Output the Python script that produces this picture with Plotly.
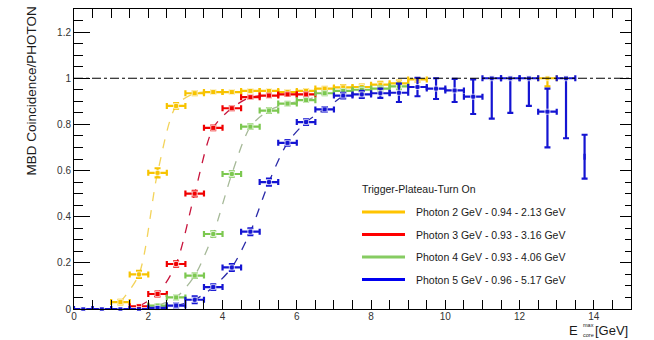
import plotly.graph_objects as go

# ---- efficiency data (bin centres, 0.5 GeV bins) ----
half_bin = 0.25

x_2gev = [1.25, 1.75, 2.25, 2.75, 3.25, 3.75, 4.25, 4.75, 5.25, 5.75, 6.25, 6.75,
          7.25, 7.75, 8.25, 8.75, 9.25, 12.75]
y_2gev = [0.03, 0.15, 0.59, 0.88, 0.935, 0.94, 0.94, 0.945, 0.945, 0.94, 0.945, 0.955,
          0.96, 0.962, 0.972, 0.978, 0.995, 1.0]
eu_2gev = [0.01, 0.015, 0.02, 0.012, 0.008, 0.006, 0.006, 0.006, 0.006, 0.007, 0.008, 0.008,
           0.01, 0.01, 0.012, 0.012, 0.005, 0.0]
ed_2gev = [0.01, 0.015, 0.02, 0.012, 0.008, 0.006, 0.006, 0.006, 0.006, 0.007, 0.008, 0.008,
           0.01, 0.01, 0.012, 0.012, 0.01, 0.035]

x_3gev = [1.75, 2.25, 2.75, 3.25, 3.75, 4.25, 4.75, 5.25, 5.75, 6.25]
y_3gev = [0.012, 0.065, 0.195, 0.50, 0.785, 0.87, 0.918, 0.925, 0.93, 0.93]
eu_3gev = [0.005, 0.01, 0.012, 0.012, 0.01, 0.008, 0.007, 0.007, 0.007, 0.008]
ed_3gev = eu_3gev

x_4gev = [2.25, 2.75, 3.25, 3.75, 4.25, 4.75, 5.25, 5.75, 6.25, 6.75, 7.25, 7.75, 8.25, 8.75]
y_4gev = [0.015, 0.05, 0.145, 0.325, 0.585, 0.79, 0.86, 0.89, 0.905, 0.935, 0.945, 0.95,
          0.955, 0.965]
eu_4gev = [0.005, 0.008, 0.01, 0.012, 0.012, 0.01, 0.01, 0.008, 0.008, 0.008, 0.008, 0.01,
           0.01, 0.012]
ed_4gev = eu_4gev

x_5gev = [0.25, 0.75, 1.25, 1.75, 2.25, 2.75, 3.25, 3.75, 4.25, 4.75, 5.25, 5.75, 6.25, 6.75,
          7.25, 7.75, 8.25, 8.75, 9.25, 9.75, 10.25, 10.75, 11.25, 11.75, 12.25, 12.75,
          13.25, 13.75]
y_5gev = [0.0, 0.0, 0.0, 0.0, 0.005, 0.015, 0.04, 0.095, 0.18, 0.335, 0.55, 0.72, 0.81, 0.865,
          0.925, 0.93, 0.935, 0.937, 0.962, 0.955, 0.947, 0.92, 1.0, 1.0, 1.0, 0.855,
          1.0, 0.66]
eu_5gev = [0.0, 0.0, 0.0, 0.0, 0.004, 0.008, 0.015, 0.012, 0.015, 0.015, 0.015, 0.012, 0.012,
           0.01, 0.012, 0.015, 0.02, 0.04, 0.04, 0.045, 0.05, 0.075, 0.0, 0.0, 0.0, 0.10,
           0.0, 0.095]
ed_5gev = [0.0, 0.0, 0.0, 0.0, 0.004, 0.008, 0.015, 0.012, 0.015, 0.015, 0.015, 0.012, 0.012,
           0.01, 0.012, 0.015, 0.02, 0.04, 0.04, 0.045, 0.05, 0.075, 0.175, 0.15, 0.12, 0.155,
           0.26, 0.095]
# last 5 GeV bin is shown as a bare vertical error bar
xerr_5gev = [half_bin] * (len(x_5gev) - 1) + [0.0]

legend_title = "Trigger-Plateau-Turn On"
legend_labels = [
    "Photon 2 GeV - 0.94 - 2.13 GeV",
    "Photon 3 GeV - 0.93 - 3.16 GeV",
    "Photon 4 GeV - 0.93 - 4.06 GeV",
    "Photon 5 GeV - 0.96 - 5.17 GeV",
]

# index range (start, stop) of the points used for each dashed turn-on curve
turn_on_ranges = [(0, 6), (0, 8), (0, 10), (4, 15)]

x_ticks = [0, 2, 4, 6, 8, 10, 12, 14]

# ---- styling ----
point_colors = ["#F7C300", "#F00000", "#7CC850", "#1414D2"]
curve_colors = ["#F3D35A", "#C8143C", "#A6B998", "#2A2AA8"]
legend_colors = ["#FFC400", "#FF0000", "#86CC62", "#0000F0"]
FONT = "Liberation Sans, Arial, Helvetica, sans-serif"
TEXT = "#1a1a1a"

W, H = 654, 340
ML, MR, MT, MB = 74, 23, 9, 31
PW, PH = W - ML - MR, H - MT - MB


def px_x(p):
    return (p - ML) / PW


def px_y(p):
    return (H - MB - p) / PH


series = [
    (x_2gev, y_2gev, eu_2gev, ed_2gev, [half_bin] * len(x_2gev)),
    (x_3gev, y_3gev, eu_3gev, ed_3gev, [half_bin] * len(x_3gev)),
    (x_4gev, y_4gev, eu_4gev, ed_4gev, [half_bin] * len(x_4gev)),
    (x_5gev, y_5gev, eu_5gev, ed_5gev, xerr_5gev),
]

fig = go.Figure()

# dashed turn-on curves
for (xs, ys, _, _, _), (a, b), col in zip(series, turn_on_ranges, curve_colors):
    fig.add_trace(go.Scatter(
        x=xs[a:b], y=ys[a:b], mode="lines",
        line=dict(color=col, width=1.3, dash="dash", shape="spline", smoothing=0.8),
        showlegend=False, hoverinfo="skip"))

# efficiency points with error bars
for (xs, ys, eu, ed, ex), col in zip(series, point_colors):
    fig.add_trace(go.Scatter(
        x=xs, y=ys, mode="markers",
        marker=dict(symbol="square", size=[5 if e > 0 else 0 for e in ex], color=col),
        error_x=dict(type="data", array=ex, thickness=2.2, width=3, color=col),
        error_y=dict(type="data", symmetric=False, array=eu, arrayminus=ed,
                     thickness=2.2, width=3, color=col),
        showlegend=False, cliponaxis=False))

# right-hand axis carrying its own tick marks
fig.add_trace(go.Scatter(x=[], y=[], yaxis="y2", showlegend=False))

# plateau reference at 1
fig.add_shape(type="line", xref="x", yref="y", x0=0, x1=15, y0=1, y1=1,
              line=dict(color="black", width=1.2, dash="dashdot"))

# legend block
fig.add_annotation(xref="paper", yref="paper", x=px_x(360), y=px_y(189),
                   text=legend_title, showarrow=False, xanchor="left", yanchor="middle",
                   font=dict(family=FONT, size=10.5, color=TEXT))
for i, (lab, col) in enumerate(zip(legend_labels, legend_colors)):
    yy = px_y(212 + i * 22.5)
    fig.add_shape(type="line", xref="paper", yref="paper",
                  x0=px_x(362), x1=px_x(405), y0=yy, y1=yy,
                  line=dict(color=col, width=3))
    fig.add_annotation(xref="paper", yref="paper", x=px_x(414), y=yy, text=lab,
                       showarrow=False, xanchor="left", yanchor="middle",
                       font=dict(family=FONT, size=10.5, color=TEXT))

# axis titles
fig.add_annotation(xref="paper", yref="paper", x=px_x(31), y=px_y(5),
                   text="MBD Coincidence/PHOTON", textangle=-90, showarrow=False,
                   xanchor="center", yanchor="top",
                   font=dict(family=FONT, size=13.5, color=TEXT))
fig.add_annotation(xref="paper", yref="paper", x=px_x(580), y=px_y(330), text="E",
                   showarrow=False, xanchor="right", yanchor="middle",
                   font=dict(family=FONT, size=13, color=TEXT))
fig.add_annotation(xref="paper", yref="paper", x=px_x(580.5), y=px_y(325), text="max",
                   showarrow=False, xanchor="left", yanchor="middle",
                   font=dict(family=FONT, size=5.5, color=TEXT))
fig.add_annotation(xref="paper", yref="paper", x=px_x(580.5), y=px_y(335), text="core",
                   showarrow=False, xanchor="left", yanchor="middle",
                   font=dict(family=FONT, size=5.5, color=TEXT))
fig.add_annotation(xref="paper", yref="paper", x=px_x(593), y=px_y(330), text="[GeV]",
                   showarrow=False, xanchor="left", yanchor="middle",
                   font=dict(family=FONT, size=13, color=TEXT))

fig.update_layout(
    width=W, height=H,
    margin=dict(l=ML, r=MR, t=MT, b=MB, pad=0),
    paper_bgcolor="white", plot_bgcolor="white",
    font=dict(family=FONT, size=10, color="#333333"),
    showlegend=False,
    xaxis=dict(range=[0, 15], tickvals=x_ticks, ticks="inside", ticklen=9, tickwidth=1,
               tickcolor="black", showline=True, linecolor="black", linewidth=1,
               mirror="allticks", showgrid=False, zeroline=False,
               ticklabelstandoff=-2,
               minor=dict(dtick=0.5, ticks="inside", ticklen=5, tickcolor="black",
                          showgrid=False),
               tickfont=dict(size=10, color="#333333")),
    yaxis=dict(range=[0, 1.3], dtick=0.2, tick0=0, ticks="inside", ticklen=16, tickwidth=1,
               tickcolor="black", showline=True, linecolor="black", linewidth=1,
               mirror=True, showgrid=False, zeroline=False,
               minor=dict(dtick=0.05, ticks="inside", ticklen=9, tickcolor="black",
                          showgrid=False),
               tickfont=dict(size=10, color="#333333")),
    yaxis2=dict(range=[0, 1.3], overlaying="y", side="right", dtick=0.2, tick0=0,
                ticks="inside", ticklen=11, tickcolor="black", showticklabels=False,
                showline=False, showgrid=False, zeroline=False,
                minor=dict(dtick=0.05, ticks="inside", ticklen=6, tickcolor="black",
                           showgrid=False)),
)

fig.write_html("out.html")
